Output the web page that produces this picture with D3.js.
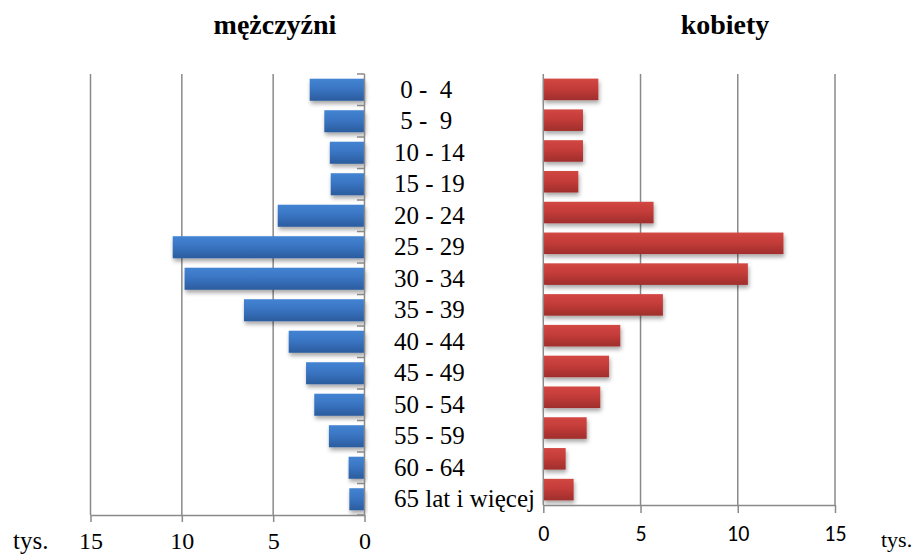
<!DOCTYPE html>
<html>
<head>
<meta charset="utf-8">
<script src="https://cdn.jsdelivr.net/npm/d3@7"></script>
<style>
  html, body { margin: 0; padding: 0; background: #fff; }
  svg { display: block; }
</style>
</head>
<body>
<svg id="chart" width="918" height="555"></svg>
<script>
// ---- data ----
const categories = [" 0 -  4", " 5 -  9", "10 - 14", "15 - 19", "20 - 24", "25 - 29", "30 - 34",
  "35 - 39", "40 - 44", "45 - 49", "50 - 54", "55 - 59", "60 - 64", "65 lat i więcej"];
const men = [3.0, 2.2, 1.9, 1.85, 4.75, 10.5, 9.85, 6.6, 4.15, 3.2, 2.75, 1.95, 0.87, 0.83];
const women = [2.83, 2.04, 2.04, 1.8, 5.67, 12.35, 10.52, 6.15, 3.96, 3.38, 2.93, 2.23, 1.15, 1.56];
const xTicks = [0, 5, 10, 15];
const titleMen = "mężczyźni";
const titleWomen = "kobiety";
const unitLabel = "tys.";

// ---- layout ----
const svg = d3.select("#chart");
const serif = "'Liberation Serif', 'Times New Roman', serif";
const sans = "Carlito, 'Liberation Sans', Arial, sans-serif";
const gridColor = "#8a8a8a";

const defs = svg.append("defs");
function grad(id, c0, c1, c2) {
  const g = defs.append("linearGradient").attr("id", id)
    .attr("x1", 0).attr("y1", 0).attr("x2", 0).attr("y2", 1);
  g.append("stop").attr("offset", "0%").attr("stop-color", c0);
  g.append("stop").attr("offset", "45%").attr("stop-color", c1);
  g.append("stop").attr("offset", "100%").attr("stop-color", c2);
}
grad("gBlue", "#4384d2", "#3a75c3", "#2b5c9e");
grad("gRed", "#d24743", "#c43c39", "#9f2e2c");
const f = defs.append("filter").attr("id", "shadow")
  .attr("x", "-10%").attr("y", "-20%").attr("width", "130%").attr("height", "160%");
f.append("feDropShadow").attr("dx", 1).attr("dy", 3).attr("stdDeviation", 2)
  .attr("flood-color", "#000").attr("flood-opacity", 0.35);

// scales
const plotTop = 74;
const xL = d3.scaleLinear().domain([0, 15]).range([364.5, 90.5]);
const yL = d3.scaleBand().domain(categories).range([plotTop, 515]).paddingInner(0.3).paddingOuter(0.15);
const xR = d3.scaleLinear().domain([0, 15]).range([543.3, 835]);
const yR = d3.scaleBand().domain(categories).range([plotTop, 505]).paddingInner(0.3).paddingOuter(0.15);

// ---- left (men) ----
const gL = svg.append("g");
gL.selectAll("line.grid").data(xTicks.filter(d => d > 0)).join("line")
  .attr("x1", d => xL(d)).attr("x2", d => xL(d))
  .attr("y1", plotTop).attr("y2", 515)
  .attr("stroke", gridColor).attr("stroke-width", 1.5);
gL.selectAll("rect.bar").data(men).join("rect")
  .attr("x", d => xL(d)).attr("width", d => xL(0) - xL(d))
  .attr("y", (d, i) => yL(categories[i])).attr("height", yL.bandwidth())
  .attr("fill", "url(#gBlue)").attr("filter", "url(#shadow)");
const axL = gL.append("g").attr("transform", "translate(0,515)")
  .call(d3.axisBottom(xL).tickValues(xTicks).tickSize(7).tickSizeOuter(0).tickPadding(10));
axL.select(".domain").attr("stroke", gridColor).attr("stroke-width", 1.5);
axL.selectAll(".tick line").attr("stroke", gridColor).attr("stroke-width", 1.5);
axL.selectAll(".tick text").attr("font-family", serif).attr("font-size", 24).attr("fill", "#000")
  .attr("dy", "0.71em");
const bounds = d3.range(categories.length + 1).map(i => plotTop + i * (515 - plotTop) / categories.length);
gL.selectAll("line.ct").data(bounds).join("line")
  .attr("x1", xL(0) - 7.5).attr("x2", xL(0)).attr("y1", d => d).attr("y2", d => d)
  .attr("stroke", gridColor).attr("stroke-width", 1.5);
gL.append("line").attr("x1", xL(0)).attr("x2", xL(0)).attr("y1", plotTop).attr("y2", 515)
  .attr("stroke", gridColor).attr("stroke-width", 1.5);

// ---- right (women) ----
const gR = svg.append("g");
gR.selectAll("line.grid").data(xTicks.filter(d => d > 0)).join("line")
  .attr("x1", d => xR(d)).attr("x2", d => xR(d))
  .attr("y1", plotTop).attr("y2", 505)
  .attr("stroke", gridColor).attr("stroke-width", 1.5);
gR.selectAll("rect.bar").data(women).join("rect")
  .attr("x", xR(0)).attr("width", d => xR(d) - xR(0))
  .attr("y", (d, i) => yR(categories[i])).attr("height", yR.bandwidth())
  .attr("fill", "url(#gRed)").attr("filter", "url(#shadow)");
const axR = gR.append("g").attr("transform", "translate(0,505)")
  .call(d3.axisBottom(xR).tickValues(xTicks).tickSize(8).tickSizeOuter(0).tickPadding(12));
axR.select(".domain").attr("stroke", gridColor).attr("stroke-width", 1.5);
axR.selectAll(".tick line").attr("stroke", gridColor).attr("stroke-width", 1.5);
axR.selectAll(".tick text").attr("font-family", sans).attr("font-size", 22).attr("fill", "#000")
  .attr("dy", "0.71em");
gR.append("line").attr("x1", xR(0)).attr("x2", xR(0)).attr("y1", plotTop).attr("y2", 505)
  .attr("stroke", gridColor).attr("stroke-width", 1.5);

// ---- category labels ----
svg.append("g").selectAll("text").data(categories).join("text")
  .attr("x", 394)
  .attr("y", d => yL(d) + yL.bandwidth() / 2 + 8)
  .attr("font-family", serif).attr("font-size", 25).attr("fill", "#000")
  .style("white-space", "pre").attr("xml:space", "preserve")
  .text(d => d);

// ---- titles ----
svg.append("text").attr("x", 275).attr("y", 34).attr("text-anchor", "middle")
  .attr("font-family", serif).attr("font-weight", "bold").attr("font-size", 28).text(titleMen);
svg.append("text").attr("x", 725).attr("y", 34).attr("text-anchor", "middle")
  .attr("font-family", serif).attr("font-weight", "bold").attr("font-size", 28).text(titleWomen);

// ---- unit labels ----
svg.append("text").attr("x", 13).attr("y", 549)
  .attr("font-family", serif).attr("font-size", 25).text(unitLabel);
svg.append("text").attr("x", 881).attr("y", 547)
  .attr("font-family", serif).attr("font-size", 22).text(unitLabel);
</script>
</body>
</html>
